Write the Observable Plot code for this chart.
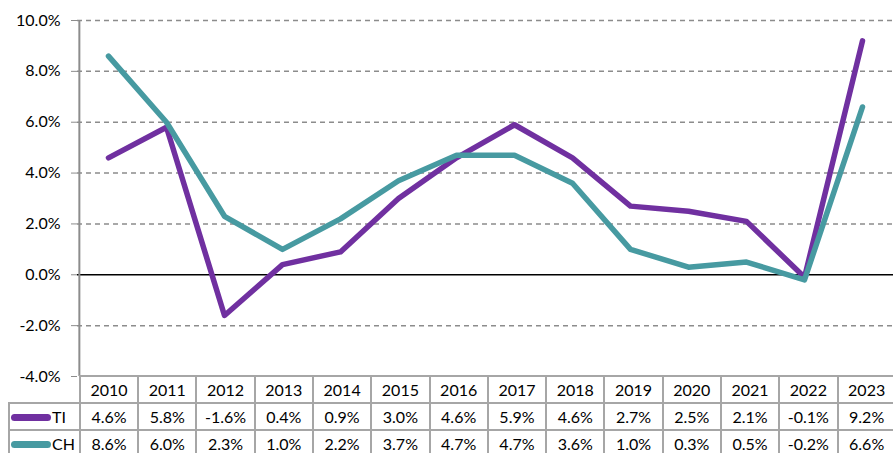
<!DOCTYPE html>
<html><head><meta charset="utf-8">
<script src="https://cdn.jsdelivr.net/npm/d3@7"></script>
<script src="https://cdn.jsdelivr.net/npm/@observablehq/plot@0.6"></script>
<style>
html,body{margin:0;padding:0;overflow:hidden;background:#fff;}
#wrap{position:relative;width:893px;height:453px;font-family:Lato,"Noto Sans",sans-serif;}
#wrap svg{display:block;}
table{position:absolute;border-collapse:collapse;table-layout:fixed;font-size:16px;color:#000;}
td{border:2px solid #a6a6a6;text-align:center;height:25px;padding:0;white-space:nowrap;line-height:25px;}
td.lg{text-align:left;padding-left:1px;}
.sw{display:inline-block;width:40px;height:7px;border-radius:3.5px;vertical-align:middle;margin-right:1px;position:relative;top:-1px;}
</style></head><body><div id="wrap"></div>
<script>
const years = [2010,2011,2012,2013,2014,2015,2016,2017,2018,2019,2020,2021,2022,2023];
const ti = [4.6,5.8,-1.6,0.4,0.9,3.0,4.6,5.9,4.6,2.7,2.5,2.1,-0.1,9.2];
const ch = [8.6,6.0,2.3,1.0,2.2,3.7,4.7,4.7,3.6,1.0,0.3,0.5,-0.2,6.6];
const seriesNames = ["TI","CH"];
const seriesColors = ["#7030a0","#479aa1"];
const yTicks = [-4,-2,0,2,4,6,8,10];

const values = {TI: ti, CH: ch};
const data = seriesNames.flatMap(s => years.map((y,i)=>({year:y, value:values[s][i], series:s})));
const fmt = d => d.toFixed(1) + "%";

const W = 893, ML = 77;
const step = (W - ML) / years.length;

const chart = Plot.plot({
  width: W, height: 453,
  marginTop: 20, marginBottom: 77, marginLeft: ML, marginRight: 0,
  style: {fontFamily: "Lato, 'Noto Sans', sans-serif", fontSize: "16px", color: "#000", background: "#fff"},
  x: {type: "point", domain: years, padding: 0.5, axis: null},
  y: {domain: [-4, 10], axis: null},
  color: {domain: seriesNames, range: seriesColors},
  marks: [
    Plot.ruleY(yTicks.filter(d => d !== 0 && d !== -4), {stroke: "#8c8c8c", strokeWidth: 1.5, strokeDasharray: "5,4"}),
    Plot.ruleY([0], {stroke: "#000", strokeWidth: 1.5}),
    Plot.ruleX([years[0]], {dx: -step/2, stroke: "#8c8c8c", strokeWidth: 2}),
    Plot.axisY({ticks: yTicks, tickSize: 6, tickPadding: 11, tickFormat: fmt, stroke: "#8c8c8c", label: null, fontSize: 16}),
    Plot.line(data, {x: "year", y: "value", z: "series", stroke: "series", strokeWidth: 5.5, strokeLinecap: "round", strokeLinejoin: "round"})
  ]
});
const wrap = document.getElementById("wrap");
wrap.appendChild(chart);

// data table below the plot, columns aligned on the x scale
const sx = chart.scale("x");
const xpos = v => sx.apply ? sx.apply(v) : ML + step*(years.indexOf(v)+0.5);
const left0 = 8;
const table = document.createElement("table");
table.style.left = left0 + "px";
table.style.top = "375px";
const cg = document.createElement("colgroup");
const c0 = document.createElement("col"); c0.style.width = (xpos(years[0]) - step/2 - left0) + "px"; cg.appendChild(c0);
years.forEach(()=>{const c=document.createElement("col"); c.style.width = step + "px"; cg.appendChild(c);});
table.appendChild(cg);
table.style.width = (W - left0 + 2) + "px";
const hr = table.insertRow();
const h0 = hr.insertCell(); h0.style.borderTop = "none"; h0.style.borderLeft = "none";
years.forEach(y => { const c = hr.insertCell(); c.textContent = y; c.style.background = "#fff"; });
seriesNames.forEach((s, k) => {
  const r = table.insertRow();
  const c = r.insertCell(); c.className = "lg"; c.style.background = "#fff";
  const sw = document.createElement("span"); sw.className = "sw"; sw.style.background = seriesColors[k];
  c.appendChild(sw); c.appendChild(document.createTextNode(s));
  values[s].forEach(v => { const d = r.insertCell(); d.textContent = fmt(v); d.style.background = "#fff"; });
});
wrap.appendChild(table);
</script>
</body></html>
